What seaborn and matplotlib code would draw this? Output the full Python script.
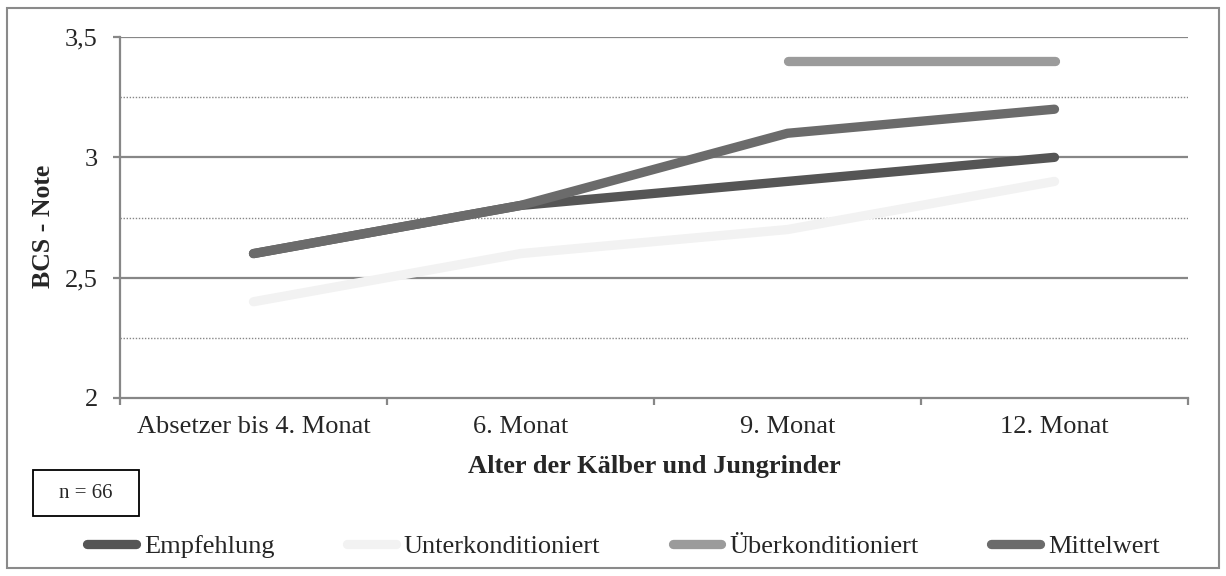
import numpy as np
import pandas as pd
import matplotlib
matplotlib.use("Agg")
import matplotlib.pyplot as plt
from matplotlib.patches import Rectangle
from matplotlib.lines import Line2D
import seaborn as sns

# Age groups on the category axis
categories = ["Absetzer bis 4. Monat", "6. Monat", "9. Monat", "12. Monat"]

# Body condition scores per series
empfehlung = [2.6, 2.8, 2.9, 3.0]
unterkonditioniert = [2.4, 2.6, 2.7, 2.9]
ueberkonditioniert = [np.nan, np.nan, 3.4, 3.4]
mittelwert = [2.6, 2.8, 3.1, 3.2]

series_names = ["Empfehlung", "Unterkonditioniert", "Überkonditioniert", "Mittelwert"]
series_values = [empfehlung, unterkonditioniert, ueberkonditioniert, mittelwert]
series_colors = ["#555555", "#f2f2f2", "#9b9b9b", "#6b6b6b"]

y_ticks = [2, 2.5, 3, 3.5]
y_tick_labels = ["2", "2,5", "3", "3,5"]

sns.set_theme(style="white")
plt.rcParams["font.family"] = ["Liberation Serif", "DejaVu Serif"]

W, H = 1226, 576
FS = 19
LW = 6.7
fig = plt.figure(figsize=(W / 100, H / 100), dpi=100)
fig.patch.set_facecolor("white")

# plot area in pixel coordinates
left_px, right_px, top_px, bottom_px = 120, 1188, 37, 398
ax = fig.add_axes([left_px / W, 1 - bottom_px / H,
                   (right_px - left_px) / W, (bottom_px - top_px) / H])

grid_col = "#878787"
x_pos = np.arange(len(categories))

df = pd.DataFrame({"x": np.tile(x_pos, len(series_names)),
                   "y": np.concatenate(series_values),
                   "series": np.repeat(series_names, len(categories))})

for name, col in zip(series_names, series_colors):
    sub = df[df["series"] == name].dropna()
    sns.lineplot(data=sub, x="x", y="y", ax=ax, color=col, lw=LW,
                 solid_capstyle="round", solid_joinstyle="round",
                 legend=False, zorder=3)

ax.set_xlim(-0.5, len(categories) - 0.5)
ax.set_ylim(2, 3.5)

# axes styling
for s in ["top", "right"]:
    ax.spines[s].set_visible(False)
for s in ["left", "bottom"]:
    ax.spines[s].set_color(grid_col)
    ax.spines[s].set_linewidth(1.6)

ax.set_yticks(y_ticks)
ax.set_yticklabels(y_tick_labels)
ax.set_yticks([2.25, 2.75, 3.25], minor=True)
ax.tick_params(axis="y", which="major", length=5, width=1.6, color=grid_col,
               labelsize=FS, pad=11, left=True)
ax.tick_params(axis="y", which="minor", length=0)

ax.set_xticks(x_pos)
ax.set_xticklabels(categories)
ax.set_xticks(np.arange(-0.5, len(categories)), minor=True)
ax.tick_params(axis="x", which="major", length=0, labelsize=FS, pad=13)
ax.tick_params(axis="x", which="minor", length=5, width=1.6, color=grid_col,
               bottom=True)

ax.grid(False)
for yv in y_ticks[1:]:
    ax.axhline(yv, color=grid_col, lw=1.6, zorder=1)
for yv in [2.25, 2.75, 3.25]:
    ax.axhline(yv, color=grid_col, lw=1.0, ls=(0, (1, 1.2)), zorder=1)

ax.set_xlabel("")
ax.set_ylabel("")
fig.text(654 / W, 1 - 466 / H, "Alter der Kälber und Jungrinder",
         ha="center", va="center", fontsize=FS, fontweight="bold")
fig.text(44 / W, 1 - 226 / H, "BCS - Note", ha="center", va="center",
         rotation=90, fontsize=18.5, fontweight="bold")

# sample size box
fig.add_artist(Rectangle((33 / W, 1 - 516 / H), 106 / W, 46 / H,
                         transform=fig.transFigure, fill=False,
                         edgecolor="black", lw=1.3))
fig.text(86 / W, 1 - 493 / H, "n = 66", ha="center", va="center", fontsize=15)

# outer frame
fig.add_artist(Rectangle((7 / W, 1 - 568 / H), 1212 / W, 560 / H,
                         transform=fig.transFigure, fill=False,
                         edgecolor="#8a8a8a", lw=1.5))

handles = [Line2D([0], [0], color=c, lw=LW, solid_capstyle="round")
           for c in series_colors]
fig.legend(handles, series_names, loc="center left",
           bbox_to_anchor=(87 / W, 1 - 546 / H), ncol=4, frameon=False,
           fontsize=FS, handlelength=1.85, handletextpad=0.3,
           columnspacing=2.75, borderpad=0, borderaxespad=0)

fig.savefig("out.png", dpi=100)
